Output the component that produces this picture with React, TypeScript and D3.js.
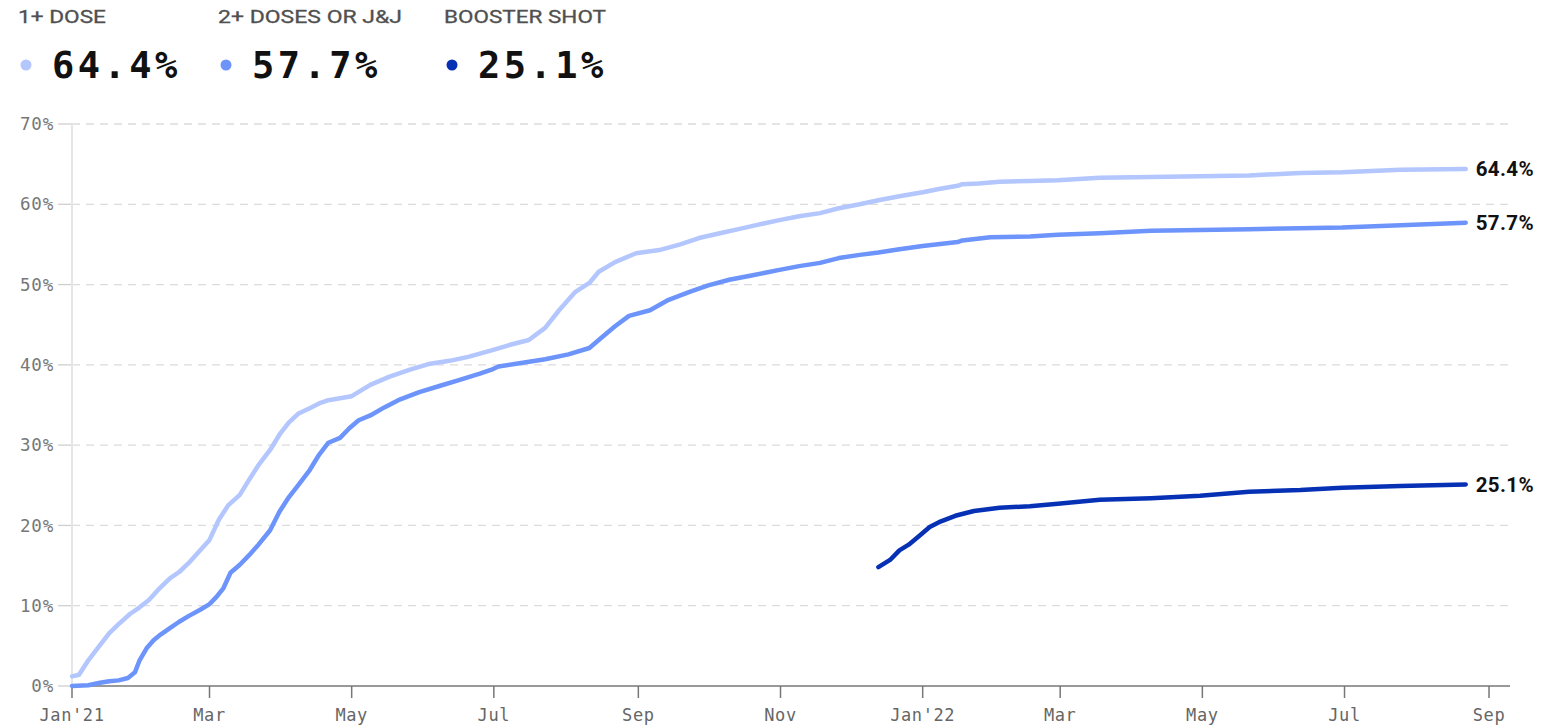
import React, { useEffect, useRef } from "react";
import * as d3 from "d3";

// share of population vaccinated
const oneDose: [string, number][] = [
  ["2021-01-01", 1.2], ["2021-01-04", 1.4], ["2021-01-08", 3.2], ["2021-01-13", 5.1],
  ["2021-01-17", 6.6], ["2021-01-21", 7.7], ["2021-01-26", 9.0], ["2021-01-30", 9.8],
  ["2021-02-03", 10.7], ["2021-02-07", 12.0], ["2021-02-12", 13.4], ["2021-02-16", 14.2],
  ["2021-02-20", 15.3], ["2021-02-25", 16.9], ["2021-03-01", 18.2], ["2021-03-05", 20.7],
  ["2021-03-09", 22.5], ["2021-03-14", 23.8], ["2021-03-18", 25.7], ["2021-03-22", 27.5],
  ["2021-03-27", 29.4], ["2021-03-31", 31.3], ["2021-04-04", 32.8], ["2021-04-08", 33.9],
  ["2021-04-13", 34.6], ["2021-04-17", 35.2], ["2021-04-21", 35.6], ["2021-05-01", 36.1],
  ["2021-05-09", 37.5], ["2021-05-17", 38.5], ["2021-05-26", 39.4], ["2021-06-03", 40.1],
  ["2021-06-12", 40.5], ["2021-06-20", 41.0], ["2021-06-30", 41.8], ["2021-07-08", 42.5],
  ["2021-07-16", 43.1], ["2021-07-23", 44.6], ["2021-07-29", 46.8], ["2021-08-05", 49.1],
  ["2021-08-11", 50.2], ["2021-08-15", 51.6], ["2021-08-22", 52.8], ["2021-08-31", 53.9],
  ["2021-09-10", 54.3], ["2021-09-19", 55.0], ["2021-09-27", 55.8], ["2021-10-06", 56.4],
  ["2021-10-14", 56.9], ["2021-10-23", 57.5], ["2021-10-31", 58.0], ["2021-11-09", 58.5],
  ["2021-11-18", 58.9], ["2021-11-26", 59.5], ["2021-12-05", 60.0], ["2021-12-13", 60.5],
  ["2021-12-22", 61.0], ["2022-01-01", 61.5], ["2022-01-08", 61.9], ["2022-01-16", 62.3],
  ["2022-01-18", 62.5], ["2022-01-25", 62.6], ["2022-02-03", 62.8], ["2022-02-16", 62.9],
  ["2022-02-28", 63.0], ["2022-03-18", 63.3], ["2022-04-09", 63.4], ["2022-04-30", 63.5],
  ["2022-05-21", 63.6], ["2022-06-12", 63.9], ["2022-06-30", 64.0], ["2022-07-25", 64.3],
  ["2022-08-22", 64.4],
];

const twoDoses: [string, number][] = [
  ["2021-01-01", 0.0], ["2021-01-08", 0.1], ["2021-01-13", 0.4], ["2021-01-17", 0.6],
  ["2021-01-21", 0.7], ["2021-01-25", 1.0], ["2021-01-28", 1.7], ["2021-01-30", 3.2],
  ["2021-02-02", 4.7], ["2021-02-05", 5.7], ["2021-02-08", 6.4], ["2021-02-12", 7.2],
  ["2021-02-16", 8.0], ["2021-02-20", 8.7], ["2021-02-25", 9.5], ["2021-03-01", 10.2],
  ["2021-03-04", 11.1], ["2021-03-07", 12.2], ["2021-03-10", 14.1], ["2021-03-14", 15.1],
  ["2021-03-18", 16.3], ["2021-03-22", 17.6], ["2021-03-27", 19.4], ["2021-03-31", 21.7],
  ["2021-04-04", 23.5], ["2021-04-08", 25.0], ["2021-04-13", 26.9], ["2021-04-17", 28.8],
  ["2021-04-21", 30.3], ["2021-04-26", 30.9], ["2021-04-30", 32.1], ["2021-05-04", 33.1],
  ["2021-05-09", 33.7], ["2021-05-15", 34.7], ["2021-05-21", 35.6], ["2021-05-30", 36.6],
  ["2021-06-08", 37.4], ["2021-06-16", 38.1], ["2021-06-25", 38.9], ["2021-06-30", 39.4],
  ["2021-07-03", 39.8], ["2021-07-12", 40.2], ["2021-07-23", 40.7], ["2021-08-02", 41.3],
  ["2021-08-11", 42.1], ["2021-08-15", 43.1], ["2021-08-22", 44.8], ["2021-08-28", 46.1],
  ["2021-09-06", 46.8], ["2021-09-14", 48.1], ["2021-09-23", 49.1], ["2021-10-01", 49.9],
  ["2021-10-10", 50.6], ["2021-10-19", 51.1], ["2021-10-31", 51.8], ["2021-11-09", 52.3],
  ["2021-11-18", 52.7], ["2021-11-26", 53.3], ["2021-12-05", 53.7], ["2021-12-13", 54.0],
  ["2021-12-22", 54.4], ["2022-01-01", 54.8], ["2022-01-16", 55.3], ["2022-01-18", 55.5],
  ["2022-01-30", 55.9], ["2022-02-16", 56.0], ["2022-02-28", 56.2], ["2022-03-18", 56.4],
  ["2022-04-09", 56.7], ["2022-04-30", 56.8], ["2022-05-21", 56.9], ["2022-06-12", 57.0],
  ["2022-06-30", 57.1], ["2022-07-25", 57.4], ["2022-08-22", 57.7],
];

const booster: [string, number][] = [
  ["2021-12-13", 14.8], ["2021-12-18", 15.7], ["2021-12-22", 16.9], ["2021-12-26", 17.6],
  ["2021-12-31", 18.8], ["2022-01-04", 19.8], ["2022-01-08", 20.4], ["2022-01-15", 21.2],
  ["2022-01-23", 21.8], ["2022-02-03", 22.2], ["2022-02-16", 22.4], ["2022-02-28", 22.7],
  ["2022-03-18", 23.2], ["2022-04-09", 23.4], ["2022-04-30", 23.7], ["2022-05-21", 24.2],
  ["2022-06-12", 24.4], ["2022-06-30", 24.7], ["2022-07-25", 24.9], ["2022-08-22", 25.1],
];

const seriesNames = ["1+ DOSE", "2+ DOSES OR J&J", "BOOSTER SHOT"];
const latestValues = ["64.4%", "57.7%", "25.1%"];
const seriesColors = ["#b3c6fd", "#6d94fb", "#0731b5"];
const yTicks = [0, 10, 20, 30, 40, 50, 60, 70];
const xTickDates = [
  "2021-01-01", "2021-03-01", "2021-05-01", "2021-07-01", "2021-09-01", "2021-11-01",
  "2022-01-01", "2022-03-01", "2022-05-01", "2022-07-01", "2022-09-01",
];

function VaccineChart() {
  const ref = useRef<SVGSVGElement>(null);

  useEffect(() => {
    const svg = d3.select(ref.current);
    svg.selectAll("*").remove();

    const width = 1555;
    const height = 725;
    const margin = { top: 124, right: 45, bottom: 39, left: 72 };
    const parse = d3.timeParse("%Y-%m-%d");
    const mono = "'DejaVu Sans Mono', monospace";

    const x = d3
      .scaleTime()
      .domain([parse("2021-01-01")!, parse("2022-09-10")!])
      .range([margin.left, width - margin.right]);
    const y = d3
      .scaleLinear()
      .domain([0, 70])
      .range([height - margin.bottom, margin.top]);

    // legend
    const legendX = [18, 218, 444];
    const legend = svg
      .append("g")
      .selectAll("g")
      .data(seriesNames)
      .join("g")
      .attr("transform", (d, i) => `translate(${legendX[i]},0)`);
    legend
      .append("text")
      .attr("x", 0)
      .attr("y", 23)
      .attr("font-family", "Roboto, sans-serif")
      .attr("font-size", 19)
      .attr("fill", "#505050")
      .attr("stroke", "#505050")
      .attr("stroke-width", 0.3)
      .attr("textLength", (d, i) => [88, 184, 162][i])
      .attr("lengthAdjust", "spacingAndGlyphs")
      .text((d) => d);
    legend
      .append("circle")
      .attr("cx", 8)
      .attr("cy", 65)
      .attr("r", 5.5)
      .attr("fill", (d, i) => seriesColors[i]);
    legend
      .append("text")
      .attr("x", 34)
      .attr("y", 78)
      .attr("font-family", mono)
      .attr("font-weight", "bold")
      .attr("font-size", 37)
      .attr("letter-spacing", 3.5)
      .attr("fill", "#111")
      .text((d, i) => latestValues[i]);

    // y grid + labels
    const grid = svg.append("g");
    grid
      .selectAll("line.grid")
      .data(yTicks.filter((t) => t > 0))
      .join("line")
      .attr("class", "grid")
      .attr("x1", margin.left)
      .attr("x2", width - margin.right)
      .attr("y1", (d) => y(d))
      .attr("y2", (d) => y(d))
      .attr("stroke", "#dcdcdc")
      .attr("stroke-width", 1.3)
      .attr("stroke-dasharray", "8,6");
    grid
      .selectAll("line.tick")
      .data(yTicks)
      .join("line")
      .attr("class", "tick")
      .attr("x1", 58)
      .attr("x2", margin.left)
      .attr("y1", (d) => y(d))
      .attr("y2", (d) => y(d))
      .attr("stroke", "#cfcfcf")
      .attr("stroke-width", 1.3);
    grid
      .selectAll("text")
      .data(yTicks)
      .join("text")
      .attr("x", 54)
      .attr("y", (d) => y(d))
      .attr("dy", "0.35em")
      .attr("text-anchor", "end")
      .attr("font-family", mono)
      .attr("font-size", 17.5)
      .attr("letter-spacing", 0.8)
      .attr("fill", "#777")
      .text((d) => `${d}%`);

    svg
      .append("line")
      .attr("x1", margin.left)
      .attr("x2", margin.left)
      .attr("y1", margin.top)
      .attr("y2", y(0))
      .attr("stroke", "#e6e6e6")
      .attr("stroke-width", 2);

    // x axis
    const xAxis = svg.append("g");
    xAxis
      .append("line")
      .attr("x1", margin.left)
      .attr("x2", width - margin.right)
      .attr("y1", y(0))
      .attr("y2", y(0))
      .attr("stroke", "#777")
      .attr("stroke-width", 1.5);
    const xt = xAxis
      .selectAll("g")
      .data(xTickDates.map((d) => parse(d)!))
      .join("g")
      .attr("transform", (d) => `translate(${x(d)},${y(0)})`);
    xt.append("line").attr("y2", 12).attr("stroke", "#777").attr("stroke-width", 1.5);
    xt.append("text")
      .attr("y", 35)
      .attr("text-anchor", "middle")
      .attr("font-family", mono)
      .attr("font-size", 17)
      .attr("letter-spacing", 0.6)
      .attr("fill", "#666")
      .text((d) => {
        const m = d3.timeFormat("%b")(d);
        return d.getMonth() === 0 ? `${m}'${d3.timeFormat("%y")(d)}` : m;
      });

    // lines
    const line = d3
      .line<[string, number]>()
      .x((d) => x(parse(d[0])!))
      .y((d) => y(d[1]));
    const all = [oneDose, twoDoses, booster];
    svg
      .append("g")
      .selectAll("path")
      .data(all)
      .join("path")
      .attr("d", (d) => line(d))
      .attr("fill", "none")
      .attr("stroke", (d, i) => seriesColors[i])
      .attr("stroke-width", 4.5)
      .attr("stroke-linejoin", "round")
      .attr("stroke-linecap", "round");

    // end labels
    svg
      .append("g")
      .selectAll("text")
      .data(all)
      .join("text")
      .attr("x", (d) => x(parse(d[d.length - 1][0])!) + 10)
      .attr("y", (d) => y(d[d.length - 1][1]))
      .attr("dy", "0.36em")
      .attr("font-family", "Roboto, sans-serif")
      .attr("font-weight", "bold")
      .attr("font-size", 20.5)
      .attr("letter-spacing", 0.4)
      .attr("fill", "#111")
      .text((d, i) => latestValues[i]);
  }, []);

  return <svg ref={ref} width={1555} height={725} style={{ display: "block" }} />;
}

export default function App() {
  return (
    <div style={{ position: "absolute", left: 0, top: 0, background: "#fff" }}>
      <VaccineChart />
    </div>
  );
}
